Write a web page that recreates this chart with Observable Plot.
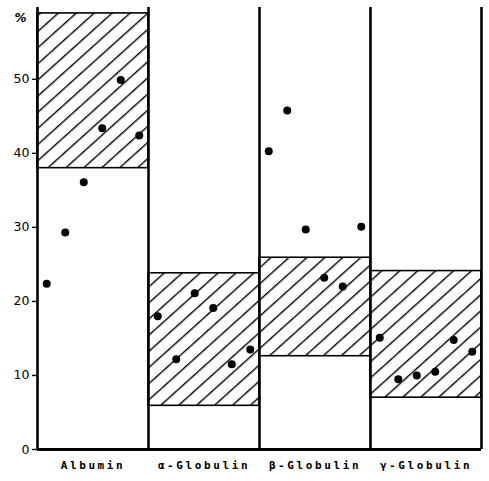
<!DOCTYPE html>
<html>
<head>
<meta charset="utf-8">
<script src="https://cdn.jsdelivr.net/npm/d3@7"></script>
<script src="https://cdn.jsdelivr.net/npm/@observablehq/plot@0.6"></script>
<style>
  html, body { margin: 0; padding: 0; background: #fff; }
</style>
</head>
<body>
<div id="chart"></div>
<script>
// ---- data ----
const categories = ["Albumin", "α-Globulin", "β-Globulin", "γ-Globulin"];
const normalLow  = [38.0, 5.9, 12.6, 7.0];
const normalHigh = [58.9, 23.8, 25.9, 24.1];
const albumin = [22.4, 29.3, 36.1, 43.4, 49.9, 42.4];
const alpha   = [18.0, 12.2, 21.1, 19.1, 11.5, 13.5];
const beta    = [40.3, 45.8, 29.7, 23.2, 22.0, 30.1];
const gamma   = [15.1, 9.5, 10.0, 10.5, 14.8, 13.2];
const yTicks  = [0, 10, 20, 30, 40, 50];

const series = [albumin, alpha, beta, gamma];
const boxes = categories.map((c, g) => ({g, lo: normalLow[g], hi: normalHigh[g]}));
const points = series.flatMap((vals, g) => vals.map((v, i) => ({g, i, n: vals.length, v})));

const yTop = 59.7;

const svg = Plot.plot({
  width: 489,
  height: 481,
  marginTop: 7,
  marginBottom: 32,
  marginLeft: 37,
  marginRight: 8,
  style: {background: "#fff", fontFamily: "DejaVu Sans", fontSize: "12px", color: "#000"},
  x: {domain: [0, 4]},
  y: {domain: [0, yTop]},
  marks: [
    Plot.rect(boxes, {x1: "g", x2: d => d.g + 1, y1: "lo", y2: "hi",
      fill: "url(#hatch)", stroke: "#000", strokeWidth: 1.6}),
    Plot.ruleX([0, 1, 2, 3, 4], {y1: 0, y2: yTop, stroke: "#000", strokeWidth: 2.6}),
    Plot.ruleY([0], {x1: 0, x2: 4, stroke: "#000", strokeWidth: 3}),
    Plot.dot(points, {x: d => d.g + (d.i + 0.5) / d.n, y: "v", r: 4, fill: "#000", stroke: "none"}),
    Plot.axisY({ticks: yTicks, tickSize: 5, tickPadding: 3, label: null, stroke: "#000", strokeWidth: 1.4, fontSize: 12.5}),
    Plot.axisX({ticks: [0.5, 1.5, 2.5, 3.5], tickFormat: d => categories[Math.floor(d)],
      tickSize: 0, tickPadding: 12, label: null, fontFamily: "DejaVu Sans Mono", fontWeight: "bold", fontSize: 11}),
    Plot.text(["%"], {frameAnchor: "top-left", dx: -23, dy: 6, fontSize: 12, fontWeight: "bold", fontStyle: "italic"})
  ]
});

// hatch pattern
const defs = d3.select(svg).insert("defs", ":first-child");
const pat = defs.append("pattern")
  .attr("id", "hatch")
  .attr("patternUnits", "userSpaceOnUse")
  .attr("width", 12)
  .attr("height", 12)
  .attr("patternTransform", "rotate(-42)");
pat.append("rect").attr("width", 12).attr("height", 12).attr("fill", "#fff");
pat.append("line").attr("x1", 0).attr("y1", 0.7).attr("x2", 12).attr("y2", 0.7)
  .attr("stroke", "#000").attr("stroke-width", 1.4);

d3.select(svg).selectAll('g[aria-label="x-axis tick label"] text').style("letter-spacing", "2.6px");

document.getElementById("chart").appendChild(svg);
</script>
</body>
</html>
